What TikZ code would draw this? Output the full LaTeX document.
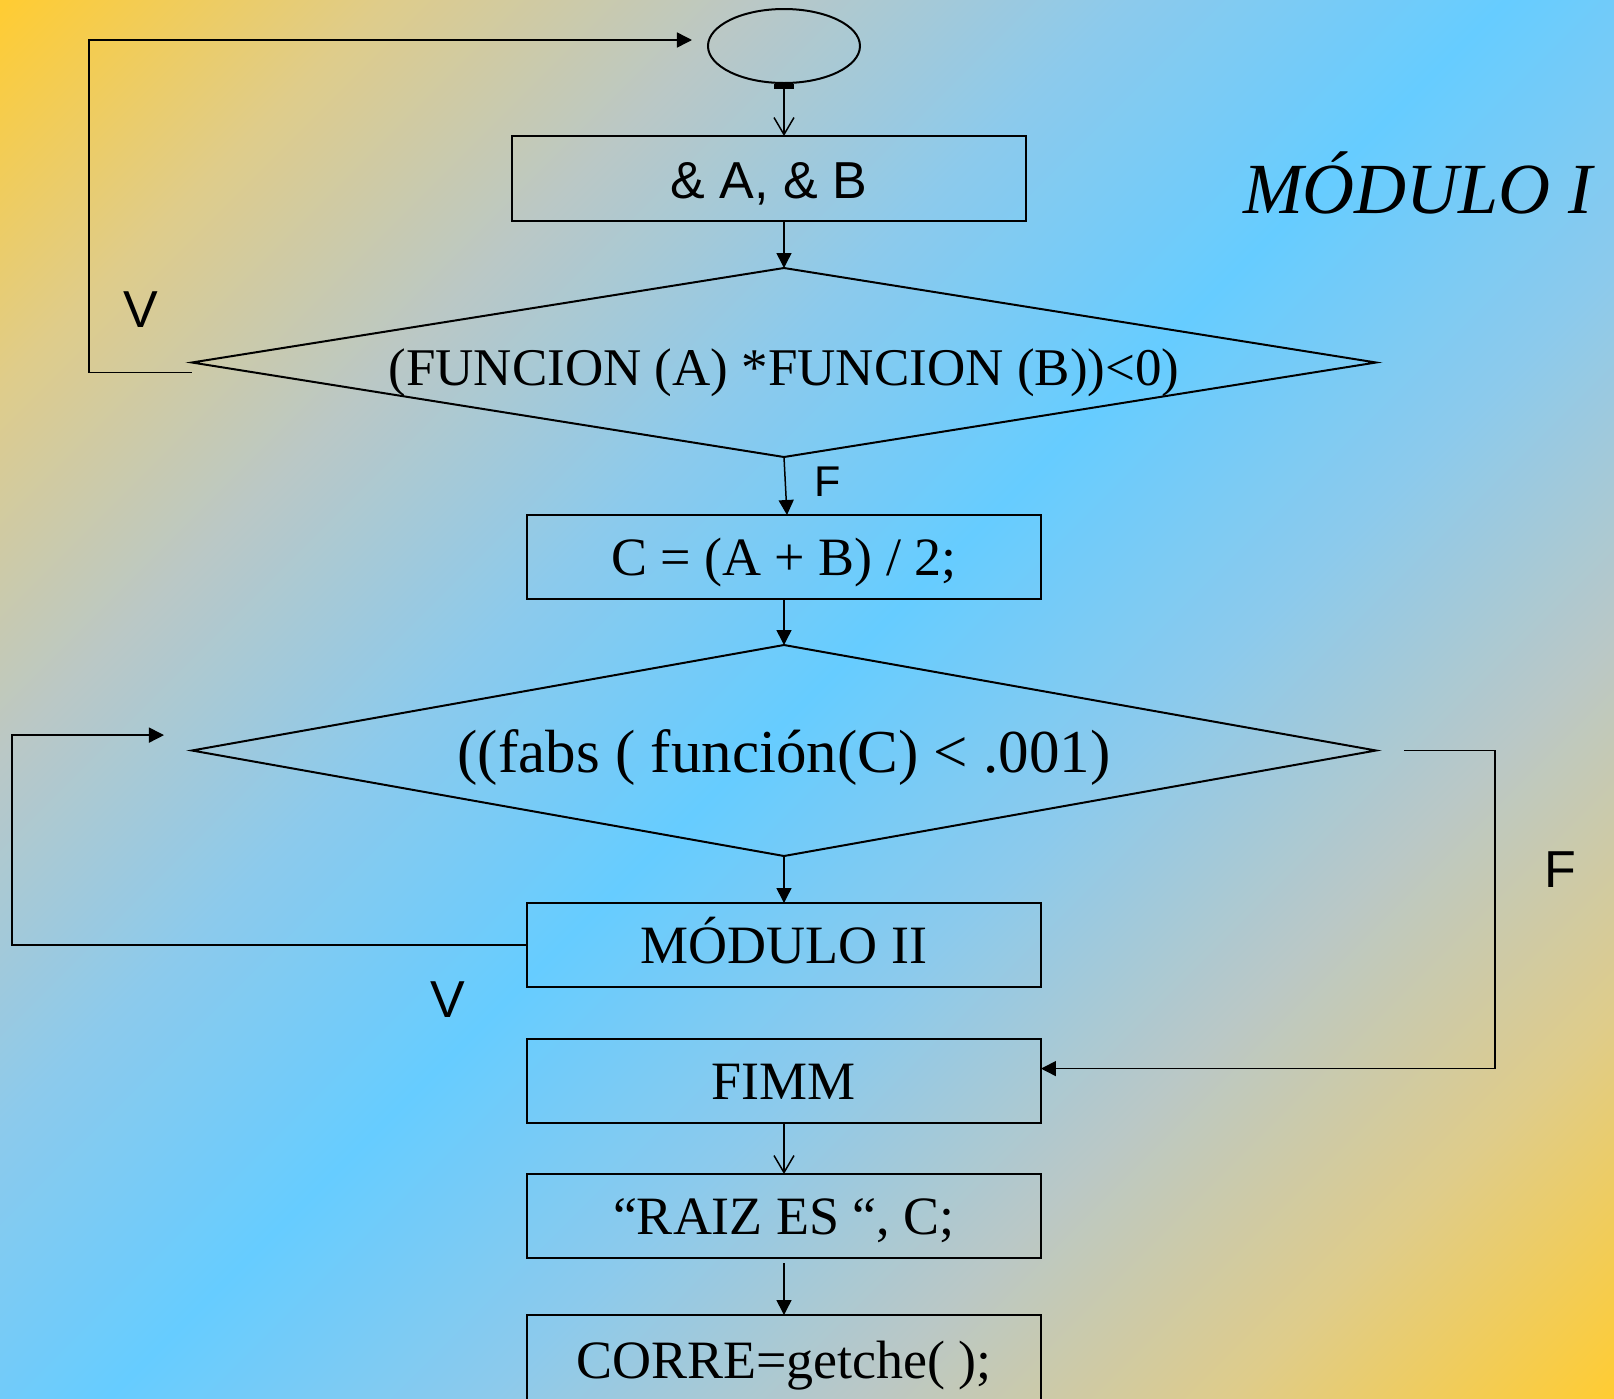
\documentclass[tikz,border=0pt]{standalone}
\usepackage{fontspec}
\setmainfont{Liberation Serif}
\newfontfamily\arialfont{Liberation Sans}
\usetikzlibrary{arrows.meta,positioning,calc,shapes.geometric}
\definecolor{Sun}{HTML}{FFCC33}
\definecolor{Straw}{HTML}{DFCC8A}
\definecolor{Haze}{HTML}{BAC8C6}
\definecolor{Mist}{HTML}{8CCAEC}
\definecolor{Sky}{HTML}{66CCFF}
% diagonal yellow-blue-yellow backdrop
\pgfdeclarehorizontalshading{sunsky}{100bp}{color(0bp)=(Sun); color(14.6bp)=(Sun);
  color(23.5bp)=(Straw); color(32.3bp)=(Haze); color(41.1bp)=(Mist); color(50bp)=(Sky);
  color(58.9bp)=(Mist); color(67.7bp)=(Haze); color(76.5bp)=(Straw);
  color(85.4bp)=(Sun); color(100bp)=(Sun)}
\tikzset{
  startoval/.style={draw,ellipse,line width=1pt,minimum width=76pt,minimum height=37pt},
  proc/.style={draw,line width=1pt,minimum width=257pt,minimum height=42pt,
    inner sep=0pt,outer sep=0pt,text height=21pt,text depth=2.2pt,
    font=\fontsize{27pt}{30pt}\selectfont},
  procsans/.style={proc,minimum height=42.5pt,text height=22.4pt,text depth=2.1pt,
    font=\arialfont\fontsize{26pt}{29pt}\selectfont},
  cond/.style={draw,diamond,line width=1pt,minimum width=592pt,inner sep=0pt,outer sep=0pt},
  lbl/.style={anchor=base,inner sep=0pt,font=\arialfont\fontsize{26pt}{29pt}\selectfont},
  arrow/.style={-{Triangle[length=7.5pt,width=7.5pt]},line width=0.75pt},
  openarrow/.style={-{Straight Barb[length=8.5pt,width=10pt]},line width=0.75pt}
}
\begin{document}
\begin{tikzpicture}[node distance=26pt]
  \useasboundingbox (-392pt,23pt) rectangle (415pt,-676.5pt);
  \shade[shading=sunsky,shading angle=-45] (-392pt,23pt) rectangle (415pt,-676.5pt);

  % main column
  \node[startoval] (start) at (0,0) {};
  \node[procsans,below=26pt of start,xshift=-7.5pt] (read) {\& A, \& B};
  \node[cond,aspect=6.26,minimum height=94.5pt,below=23.5pt of read,xshift=7.5pt,
    text height=25.2pt,text depth=1.9pt,
    font=\fontsize{26.5pt}{29pt}\selectfont] (sign) {(FUNCION (A) *FUNCION (B))<0)};
  \node[proc,below=29pt of sign] (mid) {C = (A + B) / 2;};
  \node[cond,aspect=5.61,minimum height=105.5pt,below=23pt of mid,
    text height=24.4pt,text depth=2.7pt,
    font=\fontsize{30.5pt}{33pt}\selectfont] (tol) {((fabs ( función(C) < .001)};
  \node[proc,below=23.5pt of tol] (mod2) {MÓDULO II};
  \node[proc,below=26pt of mod2] (fimm) {FIMM};
  \node[proc,below=25.5pt of fimm] (root) {“RAIZ ES “, C;};
  \node[proc,minimum height=45pt,below=28.5pt of root] (wait) {CORRE=getche( );};

  \node[anchor=base,font=\itshape\fontsize{36pt}{40pt}\selectfont] (title) at (317pt,-83.5pt) {MÓDULO I};

  % labels on the branches
  \node[lbl] (vtop) at (-321.5pt,-140.5pt) {V};
  \node[lbl,font=\arialfont\fontsize{21.5pt}{24pt}\selectfont] (fmid) at (22pt,-225pt) {F};
  \node[lbl] (vlow) at (-168pt,-485.5pt) {V};
  \node[lbl] (fright) at (388pt,-420.5pt) {F};

  % straight flow
  \draw[{Rectangle[length=2.5pt,width=10pt]}-{Straight Barb[length=8.5pt,width=10pt]},line width=0.75pt]
    (start.south) -- (start.south |- read.north);
  \draw[arrow] (sign.north |- read.south) -- (sign.north);
  \draw[arrow] (sign.south) -- ([xshift=1.5pt]mid.north);
  \draw[arrow] (mid.south) -- (tol.north);
  \draw[arrow] (tol.south) -- (mod2.north);
  \draw[openarrow] (fimm.south) -- (root.north);
  \draw[arrow,shorten <=2.5pt] (root.south) -- (wait.north);

  % loops
  \coordinate (back1) at ($(start.west)+(-7.5pt,3pt)$);
  \draw[arrow] ([yshift=-5pt]sign.west) -- ++(-51.5pt,0) |- (back1);
  \coordinate (back2) at ($(tol.west)+(-14pt,7.7pt)$);
  \draw[arrow] (mod2.west) -- ++(-257.5pt,0) |- (back2);
  \draw[arrow] ([xshift=14pt]tol.east) -- ++(45.5pt,0) |- ([yshift=6.2pt]fimm.east);
\end{tikzpicture}
\end{document}
